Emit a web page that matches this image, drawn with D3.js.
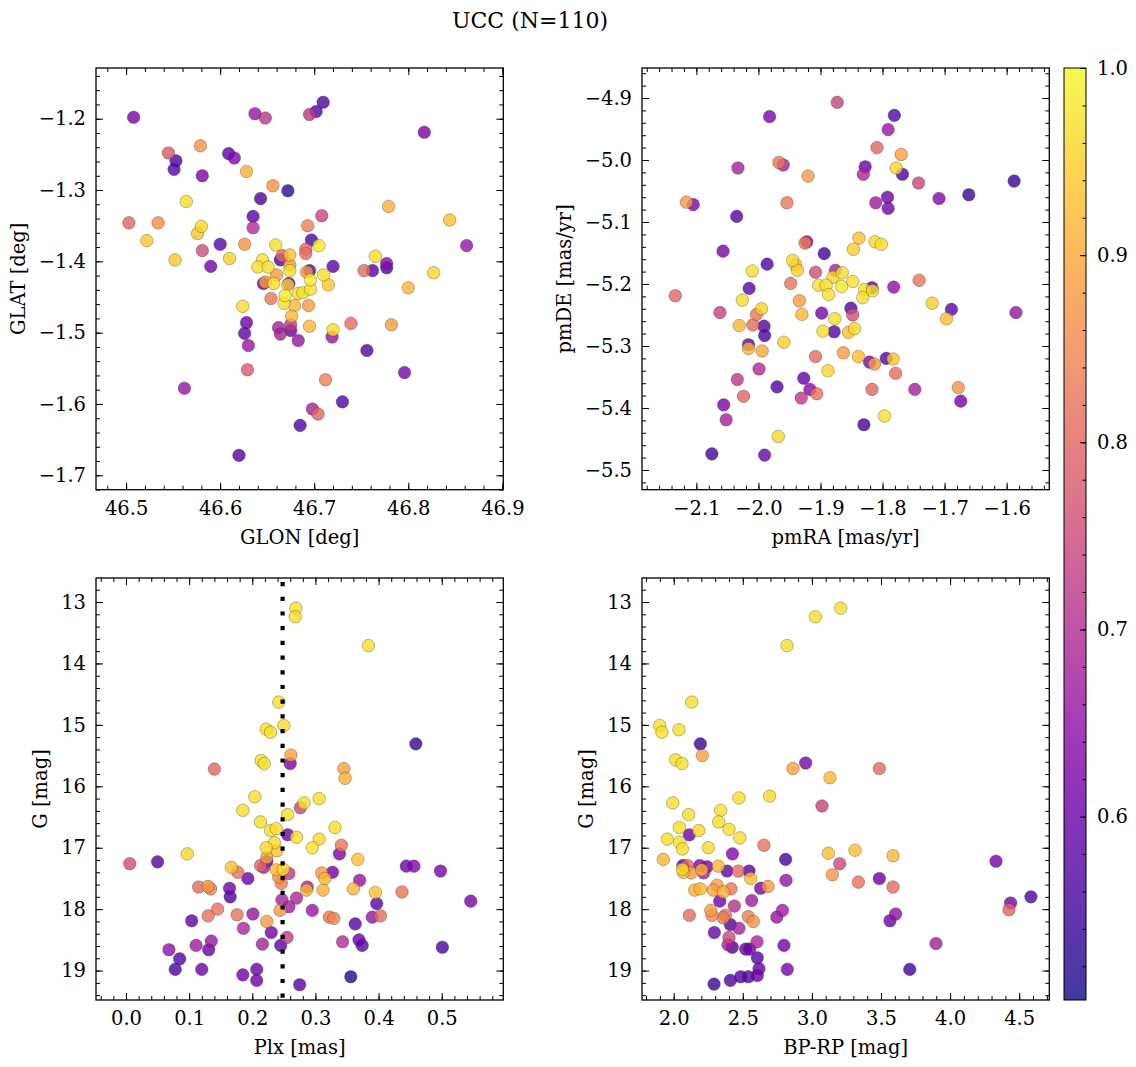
<!DOCTYPE html>
<html><head><meta charset="utf-8">
<script src="https://cdn.jsdelivr.net/npm/d3@7"></script>
<style>
body{margin:0;background:#fff;}
svg text{font-family:"DejaVu Serif",serif;fill:#000;}
</style></head><body>
<svg id="chart" width="1136" height="1067"></svg>
<script>
// ---------- DATA ----------
const titleText = "UCC (N=110)";
const probRange = [0.502, 1.0];

// [GLON, GLAT, probability]
const posData = [
[46.508,-1.198,0.62],[46.637,-1.193,0.66],[46.648,-1.199,0.72],[46.545,-1.248,0.78],[46.579,-1.238,0.87],
[46.553,-1.259,0.56],[46.551,-1.271,0.57],[46.609,-1.249,0.58],[46.615,-1.255,0.63],[46.581,-1.280,0.62],
[46.628,-1.274,0.91],[46.656,-1.294,0.87],[46.672,-1.301,0.53],[46.643,-1.312,0.56],[46.564,-1.316,0.97],
[46.635,-1.337,0.58],[46.635,-1.353,0.70],[46.503,-1.346,0.80],[46.534,-1.346,0.86],[46.522,-1.371,0.94],
[46.580,-1.351,0.96],[46.576,-1.361,0.93],[46.600,-1.376,0.58],[46.626,-1.376,0.87],[46.659,-1.377,0.97],
[46.581,-1.385,0.76],[46.552,-1.398,0.94],[46.590,-1.407,0.61],[46.610,-1.396,0.95],
[46.645,-1.398,0.97],[46.640,-1.408,0.97],[46.651,-1.408,0.97],[46.664,-1.398,0.57],[46.666,-1.392,0.80],
[46.674,-1.391,0.93],[46.674,-1.405,0.88],[46.674,-1.413,0.97],[46.660,-1.419,0.88],[46.646,-1.431,0.60],
[46.648,-1.429,0.88],[46.657,-1.431,0.97],[46.673,-1.431,0.57],[46.672,-1.433,0.95],[46.683,-1.445,0.97],
[46.654,-1.452,0.83],[46.669,-1.448,0.98],[46.668,-1.459,0.97],[46.679,-1.462,0.92],[46.676,-1.477,0.92],
[46.662,-1.493,0.68],[46.664,-1.502,0.68],[46.675,-1.497,0.60],[46.675,-1.489,0.72],[46.683,-1.511,0.66],
[46.624,-1.463,0.97],[46.628,-1.486,0.60],[46.626,-1.501,0.59],[46.630,-1.518,0.66],[46.629,-1.552,0.78],
[46.562,-1.578,0.66],[46.685,-1.630,0.56],[46.620,-1.672,0.57],
[46.7095,-1.177,0.56],[46.702,-1.190,0.57],[46.695,-1.194,0.72],[46.817,-1.219,0.62],[46.779,-1.323,0.91],
[46.844,-1.342,0.93],[46.862,-1.378,0.66],[46.708,-1.336,0.74],[46.693,-1.350,0.84],[46.697,-1.370,0.56],
[46.705,-1.378,0.98],[46.691,-1.383,0.81],[46.691,-1.389,0.81],[46.765,-1.393,0.97],[46.777,-1.403,0.64],
[46.777,-1.409,0.56],[46.720,-1.407,0.58],[46.753,-1.413,0.81],[46.762,-1.413,0.57],[46.695,-1.413,0.57],
[46.692,-1.415,0.88],[46.710,-1.419,0.97],[46.696,-1.426,0.98],[46.715,-1.433,0.94],[46.688,-1.444,0.97],
[46.696,-1.439,0.97],[46.827,-1.416,0.96],[46.800,-1.437,0.92],[46.694,-1.462,0.88],[46.695,-1.491,0.92],
[46.719,-1.506,0.66],[46.720,-1.496,0.97],[46.739,-1.487,0.81],[46.782,-1.489,0.88],[46.756,-1.525,0.57],
[46.796,-1.556,0.62],[46.712,-1.566,0.84],[46.730,-1.597,0.57],[46.698,-1.607,0.68],[46.704,-1.614,0.80]
];

// [pmRA, pmDE, probability]
const pmData = [
[-1.873,-4.907,0.74],[-1.982,-4.930,0.62],[-1.967,-5.004,0.83],[-1.960,-5.008,0.68],[-2.033,-5.013,0.68],
[-1.920,-5.026,0.88],[-2.116,-5.068,0.88],[-2.105,-5.072,0.62],[-1.954,-5.069,0.83],[-2.035,-5.091,0.57],
[-1.925,-5.134,0.84],[-1.922,-5.132,0.63],[-1.894,-5.151,0.55],[-2.057,-5.147,0.62],[-1.986,-5.168,0.57],
[-1.945,-5.162,0.96],[-1.937,-5.178,0.95],[-1.940,-5.169,0.93],[-2.010,-5.179,0.97],[-1.908,-5.181,0.76],
[-1.876,-5.178,0.68],[-1.880,-5.189,0.96],[-1.865,-5.182,0.97],[-1.903,-5.202,0.97],[-1.891,-5.202,0.97],
[-1.887,-5.217,0.97],[-1.866,-5.204,0.98],[-1.948,-5.199,0.82],[-2.015,-5.207,0.58],[-2.134,-5.219,0.80],
[-2.026,-5.226,0.97],[-1.934,-5.227,0.88],[-2.062,-5.246,0.74],[-1.995,-5.240,0.95],[-2.003,-5.249,0.83],
[-1.930,-5.249,0.92],[-1.898,-5.247,0.62],[-1.877,-5.256,0.97],[-2.009,-5.266,0.81],[-1.991,-5.268,0.58],
[-2.031,-5.267,0.92],[-1.990,-5.283,0.56],[-2.016,-5.298,0.58],[-2.016,-5.304,0.92],[-1.994,-5.308,0.90],
[-1.959,-5.294,0.95],[-1.896,-5.276,0.97],[-1.878,-5.277,0.57],[-1.908,-5.317,0.81],[-1.863,-5.311,0.88],
[-1.888,-5.340,0.96],[-1.999,-5.337,0.70],[-2.034,-5.354,0.72],[-1.970,-5.366,0.57],[-1.927,-5.352,0.59],
[-1.917,-5.370,0.64],[-1.931,-5.384,0.72],[-1.906,-5.377,0.82],[-2.024,-5.381,0.80],[-2.056,-5.395,0.62],
[-2.052,-5.419,0.68],[-1.968,-5.446,0.96],[-2.075,-5.474,0.55],[-1.990,-5.476,0.60],
[-1.781,-4.928,0.57],[-1.791,-4.951,0.66],[-1.809,-4.980,0.80],[-1.770,-4.991,0.89],[-1.778,-5.013,0.96],
[-1.768,-5.023,0.56],[-1.828,-5.011,0.60],[-1.831,-5.023,0.69],[-1.742,-5.037,0.75],[-1.588,-5.034,0.54],
[-1.661,-5.056,0.54],[-1.709,-5.062,0.63],[-1.792,-5.060,0.61],[-1.811,-5.069,0.67],[-1.791,-5.078,0.61],
[-1.838,-5.126,0.93],[-1.847,-5.144,0.95],[-1.812,-5.132,0.96],[-1.802,-5.136,0.97],[-1.848,-5.196,0.97],
[-1.829,-5.209,0.97],[-1.817,-5.206,0.57],[-1.816,-5.211,0.97],[-1.832,-5.222,0.97],[-1.782,-5.205,0.65],
[-1.741,-5.194,0.83],[-1.720,-5.231,0.95],[-1.689,-5.241,0.58],[-1.697,-5.256,0.93],[-1.585,-5.246,0.66],
[-1.851,-5.239,0.57],[-1.848,-5.250,0.76],[-1.845,-5.272,0.96],[-1.855,-5.278,0.93],[-1.839,-5.317,0.93],
[-1.821,-5.326,0.62],[-1.813,-5.329,0.88],[-1.794,-5.320,0.57],[-1.783,-5.321,0.94],[-1.779,-5.344,0.81],
[-1.817,-5.370,0.80],[-1.748,-5.370,0.68],[-1.678,-5.367,0.87],[-1.674,-5.389,0.62],[-1.797,-5.413,0.97],
[-1.830,-5.427,0.55]
];

// [Plx, G, probability]
const plxData = [
[0.269,13.10,0.97],[0.268,13.24,0.97],[0.242,14.63,0.97],[0.250,15.01,0.97],[0.222,15.07,0.97],
[0.229,15.12,0.97],[0.261,15.49,0.89],[0.260,15.63,0.62],[0.214,15.58,0.97],[0.219,15.63,0.97],
[0.140,15.72,0.80],[0.204,16.17,0.97],[0.185,16.39,0.97],[0.256,16.46,0.97],[0.213,16.58,0.97],
[0.229,16.72,0.97],[0.238,16.69,0.97],[0.256,16.79,0.60],[0.270,16.83,0.97],[0.235,16.92,0.96],
[0.222,17.00,0.96],[0.239,17.05,0.93],[0.223,17.16,0.90],[0.097,17.10,0.96],[0.006,17.26,0.76],
[0.050,17.23,0.57],[0.223,17.22,0.57],[0.213,17.29,0.80],[0.218,17.32,0.68],[0.167,17.32,0.93],
[0.177,17.40,0.82],[0.193,17.50,0.60],[0.238,17.36,0.92],[0.249,17.35,0.96],[0.258,17.42,0.72],
[0.242,17.48,0.87],[0.246,17.58,0.84],[0.115,17.64,0.81],[0.130,17.63,0.87],[0.134,17.67,0.85],
[0.164,17.66,0.61],[0.165,17.80,0.56],[0.247,17.85,0.68],[0.258,17.96,0.67],[0.270,17.82,0.69],
[0.145,18.00,0.82],[0.130,18.11,0.82],[0.104,18.19,0.58],[0.176,18.09,0.82],[0.201,18.08,0.66],
[0.223,18.20,0.88],[0.244,18.02,0.88],[0.186,18.31,0.69],[0.230,18.38,0.61],[0.135,18.52,0.66],
[0.131,18.66,0.60],[0.111,18.59,0.67],[0.068,18.66,0.65],[0.085,18.81,0.57],[0.078,18.98,0.56],
[0.120,18.98,0.60],[0.216,18.57,0.68],[0.245,18.59,0.58],[0.255,18.46,0.73],[0.185,19.07,0.61],
[0.207,18.98,0.60],[0.207,19.16,0.60],[0.275,19.23,0.57],
[0.384,13.71,0.97],[0.459,15.31,0.54],[0.345,15.71,0.89],[0.347,15.87,0.91],[0.282,16.27,0.97],
[0.276,16.35,0.74],[0.306,16.20,0.97],[0.331,16.67,0.97],[0.306,16.86,0.96],[0.295,17.00,0.97],
[0.341,16.96,0.82],[0.338,17.10,0.62],[0.367,17.19,0.93],[0.444,17.30,0.61],[0.456,17.30,0.63],
[0.498,17.38,0.62],[0.310,17.41,0.88],[0.327,17.40,0.61],[0.315,17.50,0.92],[0.370,17.53,0.66],
[0.287,17.64,0.68],[0.286,17.69,0.92],[0.312,17.69,0.91],[0.360,17.67,0.92],[0.395,17.73,0.93],
[0.437,17.72,0.82],[0.397,17.91,0.58],[0.546,17.87,0.62],[0.295,18.02,0.66],[0.322,18.13,0.83],
[0.329,18.15,0.85],[0.390,18.13,0.66],[0.403,18.11,0.81],[0.363,18.24,0.57],[0.343,18.53,0.70],
[0.369,18.50,0.60],[0.374,18.59,0.58],[0.501,18.62,0.56],[0.356,19.10,0.52]
];
const plxMarker = 0.248;

// [BP-RP, G, probability]
const cmdData = [
[3.208,13.10,0.97],[3.025,13.24,0.97],[2.820,13.71,0.97],[2.130,14.63,0.97],[1.898,15.01,0.97],
[1.915,15.12,0.97],[2.038,15.08,0.97],[2.193,15.31,0.54],[2.207,15.50,0.89],[2.014,15.57,0.97],
[2.060,15.63,0.97],[2.863,15.71,0.89],[2.955,15.62,0.62],[3.131,15.86,0.92],[1.993,16.27,0.97],
[2.472,16.19,0.97],[2.694,16.16,0.96],[3.073,16.32,0.74],[2.340,16.39,0.97],[2.108,16.46,0.97],
[2.325,16.58,0.97],[2.041,16.67,0.97],[2.181,16.72,0.96],[2.400,16.70,0.97],[2.113,16.79,0.61],
[1.954,16.86,0.97],[2.478,16.84,0.97],[2.043,16.91,0.97],[2.063,17.02,0.97],[2.251,17.00,0.96],
[2.653,16.96,0.82],[2.425,17.10,0.63],[2.810,17.19,0.55],[3.119,17.09,0.93],[3.201,17.26,0.75],
[1.925,17.19,0.92],[2.067,17.29,0.57],[2.099,17.29,0.80],[2.063,17.35,0.96],[2.070,17.40,0.92],
[2.127,17.41,0.88],[2.188,17.29,0.62],[2.241,17.31,0.63],[2.217,17.41,0.68],[2.203,17.36,0.92],
[2.323,17.30,0.92],[2.386,17.38,0.58],[2.468,17.38,0.81],[2.545,17.38,0.58],[2.557,17.50,0.93],
[2.629,17.66,0.62],[2.682,17.63,0.88],[2.813,17.53,0.66],[3.148,17.44,0.87],[2.152,17.69,0.91],
[2.193,17.67,0.92],[2.285,17.69,0.89],[2.314,17.61,0.88],[2.358,17.72,0.91],[2.415,17.67,0.83],
[2.333,17.87,0.61],[2.439,17.95,0.71],[2.564,17.86,0.67],[2.113,18.10,0.81],[2.268,18.02,0.88],
[2.277,18.10,0.85],[2.357,18.14,0.84],[2.374,18.10,0.82],[2.540,18.12,0.84],[2.576,18.20,0.87],
[2.746,18.13,0.66],[2.787,18.02,0.67],[2.410,18.25,0.57],[2.472,18.31,0.68],[2.294,18.38,0.60],
[2.400,18.46,0.75],[2.393,18.58,0.68],[2.424,18.62,0.57],[2.521,18.65,0.60],[2.550,18.65,0.60],
[2.603,18.53,0.69],[2.798,18.59,0.61],[2.605,18.79,0.57],[2.617,18.97,0.60],[2.605,19.08,0.59],
[2.822,18.98,0.62],[2.292,19.22,0.54],[2.410,19.16,0.56],[2.485,19.10,0.57],[2.540,19.10,0.57],
[3.488,15.71,0.81],[3.312,17.04,0.93],[3.587,17.13,0.92],[4.332,17.22,0.61],[3.336,17.56,0.82],
[3.488,17.50,0.60],[3.587,17.64,0.81],[4.585,17.80,0.56],[4.438,17.90,0.61],[4.426,18.01,0.80],
[3.606,18.08,0.65],[3.565,18.19,0.60],[3.898,18.56,0.68],[3.708,18.98,0.54]
];

// axis tick labels
const glonTicks = [46.5, 46.6, 46.7, 46.8, 46.9];
const glatTicks = [-1.2, -1.3, -1.4, -1.5, -1.6, -1.7];
const pmraTicks = [-2.1, -2.0, -1.9, -1.8, -1.7, -1.6];
const pmdeTicks = [-4.9, -5.0, -5.1, -5.2, -5.3, -5.4, -5.5];
const plxTicks = [0.0, 0.1, 0.2, 0.3, 0.4, 0.5];
const gTicks = [13, 14, 15, 16, 17, 18, 19];
const bprpTicks = [2.0, 2.5, 3.0, 3.5, 4.0, 4.5];
const probTicks = [0.6, 0.7, 0.8, 0.9, 1.0];

// ---------- DRAWING ----------
const svg = d3.select("#chart");
const FS = 19.5;
const color = d3.scaleSequential(d3.interpolatePlasma).domain(probRange);

svg.append("text").attr("x", 530).attr("y", 28).attr("text-anchor", "middle")
  .style("font-size", "22px").text(titleText);

const panels = [
  {data: posData, xl: "GLON [deg]", yl: "GLAT [deg]", xd: [46.468, 46.901], yd: [-1.7202, -1.1289],
   xt: glonTicks, yt: glatTicks, xm: 0.02, ym: 0.02, xf: ".1f", yf: ".1f", L: 96, R: 503.3, T: 68, B: 489.7, inv: false},
  {data: pmData, xl: "pmRA [mas/yr]", yl: "pmDE [mas/yr]", xd: [-2.1876, -1.5313], yd: [-5.5318, -4.8516],
   xt: pmraTicks, yt: pmdeTicks, xm: 0.02, ym: 0.02, xf: ".1f", yf: ".1f", L: 642, R: 1049.3, T: 68, B: 489.7, inv: false},
  {data: plxData, xl: "Plx [mas]", yl: "G [mag]", xd: [-0.0475, 0.5975], yd: [12.609, 19.479],
   xt: plxTicks, yt: gTicks, xm: 0.02, ym: 0.2, xf: ".1f", yf: "d", L: 96, R: 503.3, T: 578, B: 1000, inv: true, vline: plxMarker},
  {data: cmdData, xl: "BP-RP [mag]", yl: "G [mag]", xd: [1.7706, 4.7178], yd: [12.609, 19.479],
   xt: bprpTicks, yt: gTicks, xm: 0.1, ym: 0.2, xf: ".1f", yf: "d", L: 642, R: 1049.3, T: 578, B: 1000, inv: true}
];

function minors(dom, step) {
  const lo = Math.min(dom[0], dom[1]), hi = Math.max(dom[0], dom[1]);
  const out = [];
  for (let i = Math.ceil(lo / step - 1e-9); i * step <= hi + 1e-9; i++) out.push(+(i * step).toFixed(6));
  return out;
}

function styleAxis(g) {
  g.select(".domain").remove();
  g.selectAll(".tick line").attr("stroke", "#000").attr("stroke-width", 1);
  g.selectAll(".tick text").style("font-size", FS + "px").attr("fill", "#000");
}

panels.forEach(p => {
  const x = d3.scaleLinear().domain(p.xd).range([p.L, p.R]);
  const y = d3.scaleLinear().domain(p.yd).range(p.inv ? [p.T, p.B] : [p.B, p.T]);
  const g = svg.append("g");
  const clipId = "clip" + p.L + p.T;
  g.append("clipPath").attr("id", clipId).append("rect")
    .attr("x", p.L).attr("y", p.T).attr("width", p.R - p.L).attr("height", p.B - p.T);

  const pts = g.append("g").attr("clip-path", `url(#${clipId})`);
  const sorted = p.data.slice().sort((a, b) => a[2] - b[2]);
  pts.selectAll("circle").data(sorted).join("circle")
    .attr("cx", d => x(d[0])).attr("cy", d => y(d[1])).attr("r", 6.3)
    .attr("fill", d => color(d[2])).attr("fill-opacity", 0.8)
    .attr("stroke", "#333").attr("stroke-opacity", 0.55).attr("stroke-width", 0.6);

  if (p.vline !== undefined) {
    g.append("line").attr("x1", x(p.vline)).attr("x2", x(p.vline)).attr("y1", p.T).attr("y2", p.B)
      .attr("stroke", "#000").attr("stroke-width", 4.2).attr("stroke-dasharray", "4.2,10.5")
      .attr("stroke-dashoffset", -4);
  }

  const xMin = minors(p.xd, p.xm), yMin = minors(p.yd, p.ym);
  const bx = g.append("g").attr("transform", `translate(0,${p.B})`)
    .call(d3.axisBottom(x).tickValues(p.xt).tickFormat(d3.format(p.xf)).tickSizeInner(-7).tickSizeOuter(0).tickPadding(11));
  styleAxis(bx);
  const ly = g.append("g").attr("transform", `translate(${p.L},0)`)
    .call(d3.axisLeft(y).tickValues(p.yt).tickFormat(d3.format(p.yf)).tickSizeInner(-7).tickSizeOuter(0).tickPadding(10));
  styleAxis(ly);
  const tx = g.append("g").attr("transform", `translate(0,${p.T})`)
    .call(d3.axisTop(x).tickValues(p.xt).tickFormat("").tickSizeInner(-7).tickSizeOuter(0));
  styleAxis(tx);
  const ry = g.append("g").attr("transform", `translate(${p.R},0)`)
    .call(d3.axisRight(y).tickValues(p.yt).tickFormat("").tickSizeInner(-7).tickSizeOuter(0));
  styleAxis(ry);
  [[d3.axisBottom(x).tickValues(xMin), `translate(0,${p.B})`],
   [d3.axisTop(x).tickValues(xMin), `translate(0,${p.T})`],
   [d3.axisLeft(y).tickValues(yMin), `translate(${p.L},0)`],
   [d3.axisRight(y).tickValues(yMin), `translate(${p.R},0)`]].forEach(([ax, tr]) => {
    const m = g.append("g").attr("transform", tr).call(ax.tickFormat("").tickSizeInner(-4).tickSizeOuter(0));
    styleAxis(m);
  });

  g.append("rect").attr("x", p.L).attr("y", p.T).attr("width", p.R - p.L).attr("height", p.B - p.T)
    .attr("fill", "none").attr("stroke", "#000").attr("stroke-width", 1.3);

  g.append("text").attr("x", (p.L + p.R) / 2).attr("y", p.B + 54).attr("text-anchor", "middle")
    .style("font-size", FS + "px").text(p.xl);
  let minX = Infinity;
  ly.selectAll(".tick text").each(function() { const b = this.getBBox(); minX = Math.min(minX, b.x + p.L); });
  const lx = minX - 14;
  g.append("text").attr("transform", `translate(${lx},${(p.T + p.B) / 2}) rotate(-90)`)
    .attr("text-anchor", "middle").style("font-size", FS + "px").text(p.yl);
});

// colorbar
const cb = {L: 1064, R: 1086, T: 68, B: 1000};
const defs = svg.append("defs");
const grad = defs.append("linearGradient").attr("id", "plasmaGrad")
  .attr("x1", 0).attr("y1", 1).attr("x2", 0).attr("y2", 0);
d3.range(0, 1.0001, 0.02).forEach(t => {
  grad.append("stop").attr("offset", t).attr("stop-color", d3.interpolatePlasma(t));
});
svg.append("rect").attr("x", cb.L).attr("y", cb.T).attr("width", cb.R - cb.L).attr("height", cb.B - cb.T)
  .attr("fill", "url(#plasmaGrad)").attr("fill-opacity", 0.8);
const cy = d3.scaleLinear().domain(probRange).range([cb.B, cb.T]);
const cbAx = svg.append("g").attr("transform", `translate(${cb.R},0)`)
  .call(d3.axisRight(cy).tickValues(probTicks).tickFormat(d3.format(".1f")).tickSizeInner(-6).tickSizeOuter(0).tickPadding(11));
styleAxis(cbAx);
const cbMin = svg.append("g").attr("transform", `translate(${cb.R},0)`)
  .call(d3.axisRight(cy).tickValues(minors(probRange, 0.02)).tickFormat("").tickSizeInner(-3.5).tickSizeOuter(0));
styleAxis(cbMin);
svg.append("rect").attr("x", cb.L).attr("y", cb.T).attr("width", cb.R - cb.L).attr("height", cb.B - cb.T)
  .attr("fill", "none").attr("stroke", "#000").attr("stroke-width", 1);
</script>
</body></html>
